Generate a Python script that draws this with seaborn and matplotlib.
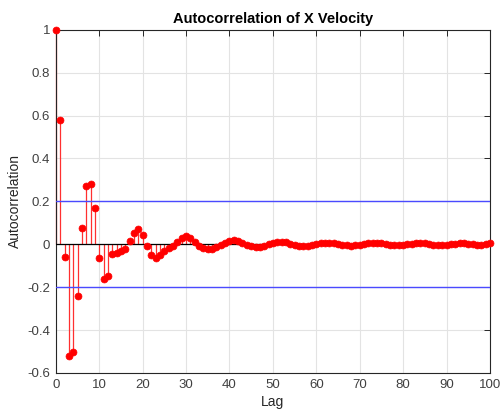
import numpy as np
import pandas as pd
import matplotlib
matplotlib.use("Agg")
import matplotlib.pyplot as plt
import seaborn as sns

# Sample autocorrelation of the x-velocity signal, lags 0..100
lags = list(range(0, 101))
acf = [
    1.000, 0.580, -0.059, -0.519, -0.500, -0.243, 0.076, 0.274, 0.279, 0.170,
    -0.065, -0.160, -0.150, -0.047, -0.039, -0.033, -0.020, 0.014, 0.053, 0.069,
    0.045, -0.008, -0.048, -0.062, -0.048, -0.031, -0.019, -0.006, 0.012, 0.030,
    0.038, 0.030, 0.012, -0.006, -0.018, -0.022, -0.020, -0.013, -0.004, 0.008,
    0.016, 0.020, 0.017, 0.008, -0.002, -0.010, -0.014, -0.012, -0.006, 0.002,
    0.008, 0.012, 0.012, 0.009, 0.003, -0.003, -0.008, -0.010, -0.009, -0.005,
    0.000, 0.005, 0.008, 0.008, 0.006, 0.002, -0.002, -0.005, -0.006, -0.005,
    -0.002, 0.002, 0.005, 0.006, 0.006, 0.004, 0.000, -0.003, -0.005, -0.005,
    -0.003, 0.000, 0.003, 0.005, 0.005, 0.004, 0.001, -0.002, -0.004, -0.005,
    -0.004, -0.001, 0.002, 0.004, 0.005, 0.003, 0.000, -0.003, -0.003, 0.000,
    0.004,
]
conf_bound = 0.2
x_ticks = [0, 10, 20, 30, 40, 50, 60, 70, 80, 90, 100]
y_ticks = [-0.6, -0.4, -0.2, 0, 0.2, 0.4, 0.6, 0.8, 1]

df = pd.DataFrame({"Lag": lags, "ACF": acf})

sns.set_style("white")
plt.rcParams["font.family"] = ["Liberation Sans", "DejaVu Sans"]

fig = plt.figure(figsize=(5.03, 4.20), dpi=100)
ax = fig.add_axes([0.111, 0.112, 0.863, 0.817])

ax.set_xlim(0, 100)
ax.set_ylim(-0.6, 1)
ax.set_xticks(x_ticks)
ax.set_yticks(y_ticks)
ax.set_yticklabels(["-0.6", "-0.4", "-0.2", "0", "0.2", "0.4", "0.6", "0.8", "1"])
ax.grid(True, color="#e3e3e3", linewidth=0.8)
ax.set_axisbelow(True)

# stems
ax.vlines(df["Lag"], 0, df["ACF"], color="#ff3030", linewidth=0.9, zorder=2,
          clip_on=False)
# zero baseline
ax.axhline(0, color="black", linewidth=0.9, zorder=3)
# confidence bounds
ax.axhline(conf_bound, color="#4a4aff", linewidth=1.0, zorder=3)
ax.axhline(-conf_bound, color="#4a4aff", linewidth=1.0, zorder=3)

sns.scatterplot(data=df, x="Lag", y="ACF", ax=ax, color="red",
                s=25, edgecolor="red", linewidth=0.5, zorder=5, legend=False,
                clip_on=False)

for sp in ax.spines.values():
    sp.set_color("#262626")
    sp.set_linewidth(0.8)
ax.tick_params(direction="in", top=True, right=True, length=4, width=0.7,
               colors="#262626", labelsize=9.5, labelcolor="#404040", pad=4)

ax.set_xlabel("Lag", fontsize=10, color="#262626", labelpad=3)
ax.set_ylabel("Autocorrelation", fontsize=10, color="#262626", labelpad=4)
ax.set_title("Autocorrelation of X Velocity", fontsize=10.5, fontweight="bold",
             color="black", pad=5)

fig.savefig("out.png", dpi=100)
